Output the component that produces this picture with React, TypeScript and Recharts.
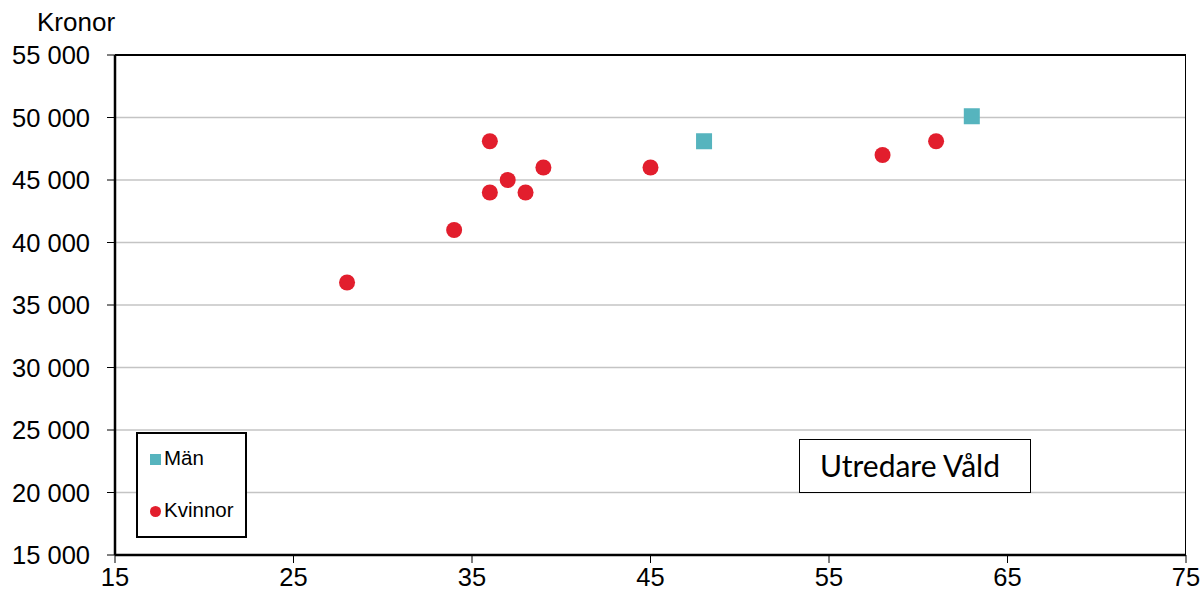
import React from "react";
import {
  ScatterChart,
  Scatter,
  XAxis,
  YAxis,
  CartesianGrid,
} from "recharts";

const manAge = [48, 63];
const manSalary = [48100, 50100];
const kvinnorAge = [28, 34, 36, 36, 37, 38, 39, 45, 58, 61];
const kvinnorSalary = [36800, 41000, 44000, 48100, 45000, 44000, 46000, 46000, 47000, 48100];
const xTicks = [15, 25, 35, 45, 55, 65, 75];
const yTicks = [15000, 20000, 25000, 30000, 35000, 40000, 45000, 50000, 55000];

const TEAL = "#56B4BE";
const RED = "#E21E2D";
const FONT = "'Liberation Sans', Arial, sans-serif";

const manData = manAge.map((x, i) => ({ x, y: manSalary[i] }));
const kvinnorData = kvinnorAge.map((x, i) => ({ x, y: kvinnorSalary[i] }));

const fmt = (v: number) => String(v).replace(/\B(?=(\d{3})+(?!\d))/g, " ");

const Square = (p: any) => (
  <rect x={p.cx - 8} y={p.cy - 8} width={16} height={16} fill={TEAL} />
);
const Dot = (p: any) => <circle cx={p.cx} cy={p.cy} r={8} fill={RED} />;

export default function App() {
  return (
    <div
      style={{
        position: "absolute",
        left: 0,
        top: 0,
        width: 1203,
        height: 599,
        background: "#fff",
        fontFamily: FONT,
      }}
    >
      <ScatterChart
        width={1203}
        height={599}
        margin={{ top: 55, right: 17, bottom: 4, left: 15 }}
      >
        <CartesianGrid vertical={false} stroke="#c4c4c4" strokeWidth={1.5} />
        <XAxis
          type="number"
          dataKey="x"
          domain={[15, 75]}
          ticks={xTicks}
          height={40}
          tickSize={8}
          tickMargin={5}
          axisLine={{ stroke: "#000", strokeWidth: 2.5 }}
          tickLine={{ stroke: "#000", strokeWidth: 1 }}
          tick={{ fill: "#000", fontSize: 25.5, fontFamily: FONT }}
          interval={0}
        />
        <YAxis
          type="number"
          dataKey="y"
          domain={[15000, 55000]}
          ticks={yTicks}
          width={100}
          tickSize={8}
          tickMargin={17}
          tickFormatter={fmt}
          axisLine={{ stroke: "#000", strokeWidth: 2.5 }}
          tickLine={{ stroke: "#000", strokeWidth: 1 }}
          tick={{ fill: "#000", fontSize: 25.5, fontFamily: FONT }}
          interval={0}
        />
        <Scatter data={manData} shape={Square} isAnimationActive={false} />
        <Scatter data={kvinnorData} shape={Dot} isAnimationActive={false} />
      </ScatterChart>

      {/* frame top/right */}
      <div
        style={{
          position: "absolute",
          left: 115,
          top: 54,
          width: 1070,
          height: 500,
          borderTop: "2px solid #000",
          borderRight: "1.5px solid #000",
          pointerEvents: "none",
        }}
      />

      <div
        style={{
          position: "absolute",
          left: 37,
          top: 7,
          fontSize: 26,
          color: "#000",
        }}
      >
        Kronor
      </div>

      {/* legend */}
      <div
        style={{
          position: "absolute",
          left: 136,
          top: 432,
          width: 107,
          height: 102,
          border: "2px solid #000",
          background: "#fff",
          fontSize: 20.5,
          color: "#000",
        }}
      >
        <div style={{ position: "absolute", left: 12, top: 20, width: 11, height: 11, background: TEAL }} />
        <div style={{ position: "absolute", left: 26, top: 12 }}>Män</div>
        <div
          style={{
            position: "absolute",
            left: 12,
            top: 72,
            width: 11,
            height: 11,
            borderRadius: "50%",
            background: RED,
          }}
        />
        <div style={{ position: "absolute", left: 26, top: 64 }}>Kvinnor</div>
      </div>

      {/* title box */}
      <div
        style={{
          position: "absolute",
          left: 799,
          top: 439,
          width: 230,
          height: 52,
          border: "1.5px solid #000",
          background: "#fff",
          fontFamily: "Lato, sans-serif",
          fontSize: 30,
          color: "#000",
        }}
      >
        <div style={{ position: "absolute", left: 20, top: 7 }}>Utredare Våld</div>
      </div>
    </div>
  );
}
